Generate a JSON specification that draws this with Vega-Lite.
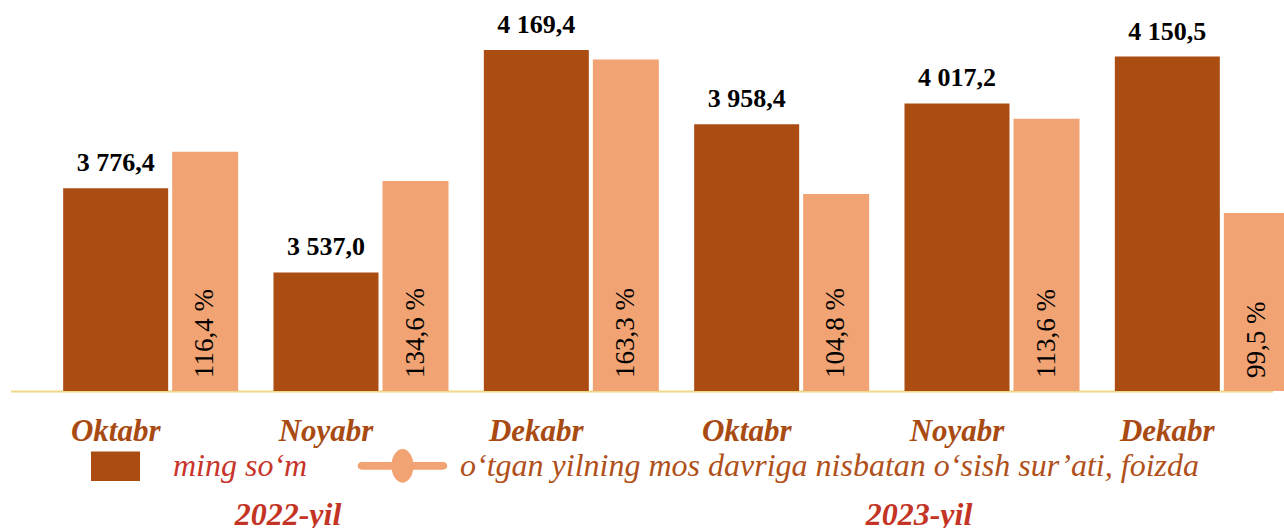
{
  "$schema": "https://vega.github.io/schema/vega-lite/v6.json",
  "width": 1262,
  "height": 387,
  "autosize": {"type": "none"},
  "padding": {"left": 10.5, "top": 4, "right": 11.5, "bottom": 137},
  "background": "white",
  "data": {
    "values": [
      {"key": "2022-10", "value": 3776.4, "pct": 116.4, "h": 3880},
      {"key": "2022-11", "value": 3537.0, "pct": 134.6, "h": 3797},
      {"key": "2022-12", "value": 4169.4, "pct": 163.3, "h": 4142},
      {"key": "2023-10", "value": 3958.4, "pct": 104.8, "h": 3760},
      {"key": "2023-11", "value": 4017.2, "pct": 113.6, "h": 3974},
      {"key": "2023-12", "value": 4150.5, "pct": 99.5, "h": 3706}
    ]
  },
  "resolve": {"axis": {"x": "independent"}},
  "layer": [
    {
      "mark": {"type": "bar", "width": 105},
      "encoding": {
        "x": {
          "field": "key", "type": "nominal",
          "scale": {"type": "band", "paddingInner": 0, "paddingOuter": 0},
          "axis": {
            "orient": "bottom", "title": null,
            "labelExpr": "slice(datum.value,5)=='10' ? 'Oktabr' : slice(datum.value,5)=='11' ? 'Noyabr' : 'Dekabr'",
            "labelAngle": 0, "labelFont": "Liberation Serif", "labelFontSize": 31,
            "labelFontWeight": "bold", "labelFontStyle": "italic", "labelColor": "#A94A12",
            "labelBaseline": "alphabetic", "labelPadding": 49, "ticks": false, "tickSize": 0,
            "domain": true, "domainColor": "#F0D88A", "domainWidth": 2, "grid": false, "labelLimit": 300
          }
        },
        "y": {"field": "value", "type": "quantitative", "scale": {"domain": [3200, 4300], "zero": false, "nice": false}, "axis": null},
        "y2": {"datum": 3200},
        "color": {
          "datum": "ming so‘m",
          "scale": {
            "domain": ["ming so‘m", "o‘tgan yilning mos davriga nisbatan o‘sish sur’ati, foizda"],
            "range": ["#AB4C12", "#F1A373"]
          },
          "legend": {
            "orient": "none", "legendX": 80.5, "legendY": 437, "direction": "horizontal",
            "title": null, "padding": 0, "symbolSize": 2401,
            "symbolType": {"expr": "datum.index == 0 ? 'M-1,-0.6H1V0.6H-1Z' : 'M-1.67,-0.16H1.67A0.16,0.16 0 0 1 1.67,0.16H-1.67A0.16,0.16 0 0 1 -1.67,-0.16Z M-0.45,0A0.45,0.69 0 1 1 0.45,0A0.45,0.69 0 1 1 -0.45,0Z'"},
            "labelColor": {"expr": "datum.index == 0 ? '#C8352A' : '#B0501A'"},
            "labelFont": "Liberation Serif", "labelFontStyle": "italic", "labelFontSize": 32,
            "labelOffset": 33, "columnPadding": 49, "symbolStrokeWidth": 0, "symbolOpacity": 1,
            "labelLimit": 1000
          }
        }
      }
    },
    {
      "mark": {"type": "bar", "width": 66, "xOffset": 89.5},
      "encoding": {
        "x": {"field": "key", "type": "nominal", "axis": null},
        "y": {"field": "h", "type": "quantitative"},
        "y2": {"datum": 3200},
        "color": {"datum": "o‘tgan yilning mos davriga nisbatan o‘sish sur’ati, foizda"}
      }
    },
    {
      "mark": {"type": "text", "font": "Liberation Serif", "fontWeight": "bold", "fontSize": 26, "baseline": "alphabetic", "dy": -17, "color": "#000000"},
      "encoding": {
        "x": {"field": "key", "type": "nominal", "axis": null},
        "y": {"field": "value", "type": "quantitative"},
        "text": {"field": "value", "type": "quantitative", "format": ",.1f"}
      }
    },
    {
      "mark": {"type": "text", "font": "Liberation Serif", "fontSize": 27, "angle": 270, "align": "left", "baseline": "middle", "dx": 13, "xOffset": 89.5, "color": "#000000"},
      "encoding": {
        "x": {
          "field": "key", "type": "nominal",
          "axis": {
            "orient": "bottom", "title": null,
            "labelExpr": "slice(datum.value,5)=='11' ? slice(datum.value,0,4) + '-yil' : ''",
            "labelAngle": 0, "labelFont": "Liberation Serif", "labelFontSize": 32,
            "labelFontWeight": "bold", "labelFontStyle": "italic", "labelColor": "#C43425",
            "labelBaseline": "alphabetic", "labelPadding": 133, "ticks": false, "tickSize": 0,
            "domain": false, "grid": false, "labelLimit": 300, "labelOffset": -38
          }
        },
        "y": {"datum": 3200},
        "text": {"field": "pct", "type": "quantitative", "format": "$,.1f"}
      }
    }
  ],
  "config": {
    "view": {"stroke": null},
    "locale": {"number": {"decimal": ",", "thousands": " ", "grouping": [3], "currency": ["", " %"]}}
  }
}
